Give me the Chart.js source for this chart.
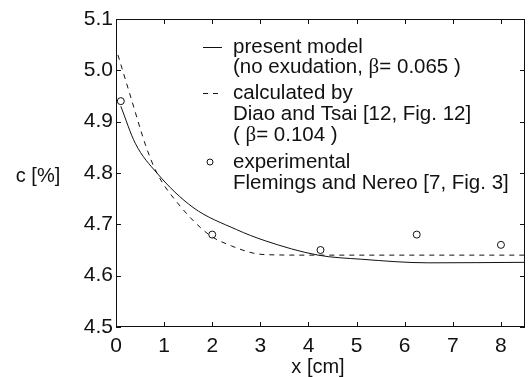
<!DOCTYPE html>
<html>
<head>
<meta charset="utf-8">
<script src="https://cdn.jsdelivr.net/npm/chart.js@4/dist/chart.umd.min.js"></script>
<style>
  html, body { margin: 0; padding: 0; background: #fff; }
  #wrap { width: 530px; height: 377px; }
</style>
</head>
<body>
<div id="wrap"><canvas id="c"></canvas></div>
<script>
// present model (solid)
var presentX = [0.1, 0.4, 0.85, 1.6, 2.5, 3.1, 4.2, 5.1, 6.5, 8.5];
var presentY = [4.93, 4.858, 4.80, 4.733, 4.69, 4.668, 4.64, 4.632, 4.625, 4.626];
// Diao and Tsai (dashed)
var calcX = [0.04, 0.3, 0.63, 0.85, 1.25, 1.93, 2.4, 2.85, 3.1, 4.0, 6.0, 8.5];
var calcY = [5.03, 4.95, 4.85, 4.80, 4.745, 4.68, 4.658, 4.644, 4.641, 4.64, 4.64, 4.64];
// experimental points
var expX = [0.1, 2.0, 4.25, 6.25, 8.0];
var expY = [4.94, 4.68, 4.65, 4.68, 4.66];

var xTicks = [0, 1, 2, 3, 4, 5, 6, 7, 8];
var yTicks = [4.5, 4.6, 4.7, 4.8, 4.9, 5.0, 5.1];

var SANS = '"Liberation Sans", Arial, sans-serif';
var SERIF = '"Liberation Serif", "Times New Roman", serif';
var INK = '#111';

function pts(xs, ys) {
    return xs.map(function (x, i) { return { x: x, y: ys[i] }; });
}

// frame, inward ticks, axis titles and the legend
var framePlugin = {
    id: 'frame',
    afterDraw: function (chart) {
        var ctx = chart.ctx, a = chart.chartArea;
        var xs = chart.scales.x, ys = chart.scales.y;
        ctx.save();
        ctx.strokeStyle = INK;
        ctx.lineWidth = 1;
        ctx.setLineDash([]);
        ctx.strokeRect(a.left + 0.5, a.top + 0.5, a.right - a.left - 1, a.bottom - a.top - 1);
        ctx.beginPath();
        xTicks.forEach(function (v) {
            var px = Math.round(xs.getPixelForValue(v)) + 0.5;
            ctx.moveTo(px, a.bottom); ctx.lineTo(px, a.bottom - 5);
            ctx.moveTo(px, a.top); ctx.lineTo(px, a.top + 5);
        });
        yTicks.forEach(function (v) {
            var py = Math.round(ys.getPixelForValue(v)) + 0.5;
            ctx.moveTo(a.left, py); ctx.lineTo(a.left + 5, py);
            ctx.moveTo(a.right, py); ctx.lineTo(a.right - 5, py);
        });
        ctx.stroke();

        ctx.fillStyle = INK;
        ctx.textBaseline = 'middle';
        ctx.textAlign = 'center';
        ctx.font = '20px ' + SANS;
        ctx.fillText('c [%]', 38, 176);
        ctx.fillText('x [cm]', 318, 367);

        // legend
        ctx.textAlign = 'left';
        var tx = 233;
        function txt(parts, y) {
            var x = tx;
            parts.forEach(function (p) {
                ctx.font = (p.serif ? '21px ' + SERIF : '20.5px ' + SANS);
                ctx.fillText(p.t, x, y);
                x += ctx.measureText(p.t).width;
            });
        }
        ctx.beginPath();
        ctx.moveTo(203, 47.5); ctx.lineTo(222, 47.5);
        ctx.stroke();
        txt([{ t: 'present model' }], 47);
        txt([{ t: '(no exudation, ' }, { t: 'β', serif: true }, { t: '= 0.065 )' }], 67);

        ctx.setLineDash([5, 5]);
        ctx.beginPath();
        ctx.moveTo(203, 93.5); ctx.lineTo(222, 93.5);
        ctx.stroke();
        ctx.setLineDash([]);
        txt([{ t: 'calculated by' }], 93);
        txt([{ t: 'Diao and Tsai [12, Fig. 12]' }], 114);
        txt([{ t: '( ' }, { t: 'β', serif: true }, { t: '= 0.104 )' }], 135);

        ctx.beginPath();
        ctx.arc(210, 162, 3, 0, Math.PI * 2);
        ctx.stroke();
        txt([{ t: 'experimental' }], 162);
        txt([{ t: 'Flemings and Nereo [7, Fig. 3]' }], 183);
        ctx.restore();
    }
};

new Chart(document.getElementById('c'), {
    type: 'scatter',
    data: {
        datasets: [
            { data: pts(presentX, presentY), showLine: true, borderColor: INK, borderWidth: 1, pointRadius: 0, cubicInterpolationMode: 'monotone' },
            { data: pts(calcX, calcY), showLine: true, borderColor: INK, borderWidth: 1, borderDash: [5, 5], pointRadius: 0, cubicInterpolationMode: 'monotone' },
            { data: pts(expX, expY), showLine: false, pointRadius: 3.5, pointBorderWidth: 1, pointBorderColor: INK, pointBackgroundColor: 'rgba(0,0,0,0)' }
        ]
    },
    options: {
        responsive: true,
        maintainAspectRatio: false,
        animation: false,
        events: [],
        layout: { padding: { top: 19, right: 1, left: 0, bottom: 0 } },
        plugins: { legend: { display: false }, tooltip: { enabled: false } },
        scales: {
            x: {
                type: 'linear', min: 0, max: 8.5,
                afterBuildTicks: function (s) { s.ticks = xTicks.map(function (v) { return { value: v }; }); },
                afterFit: function (s) { s.height = 50; },
                grid: { display: false, drawTicks: false },
                border: { display: false },
                ticks: { color: INK, font: { family: SANS, size: 21 }, padding: 7, maxRotation: 0 }
            },
            y: {
                type: 'linear', min: 4.5, max: 5.1,
                afterBuildTicks: function (s) { s.ticks = yTicks.map(function (v) { return { value: v }; }); },
                afterFit: function (s) { s.width = 116; },
                grid: { display: false, drawTicks: false },
                border: { display: false },
                ticks: { color: INK, font: { family: SANS, size: 21 }, padding: 3, callback: function (v) { return Number(v).toFixed(1); } }
            }
        }
    },
    plugins: [framePlugin]
});
</script>
</body>
</html>
